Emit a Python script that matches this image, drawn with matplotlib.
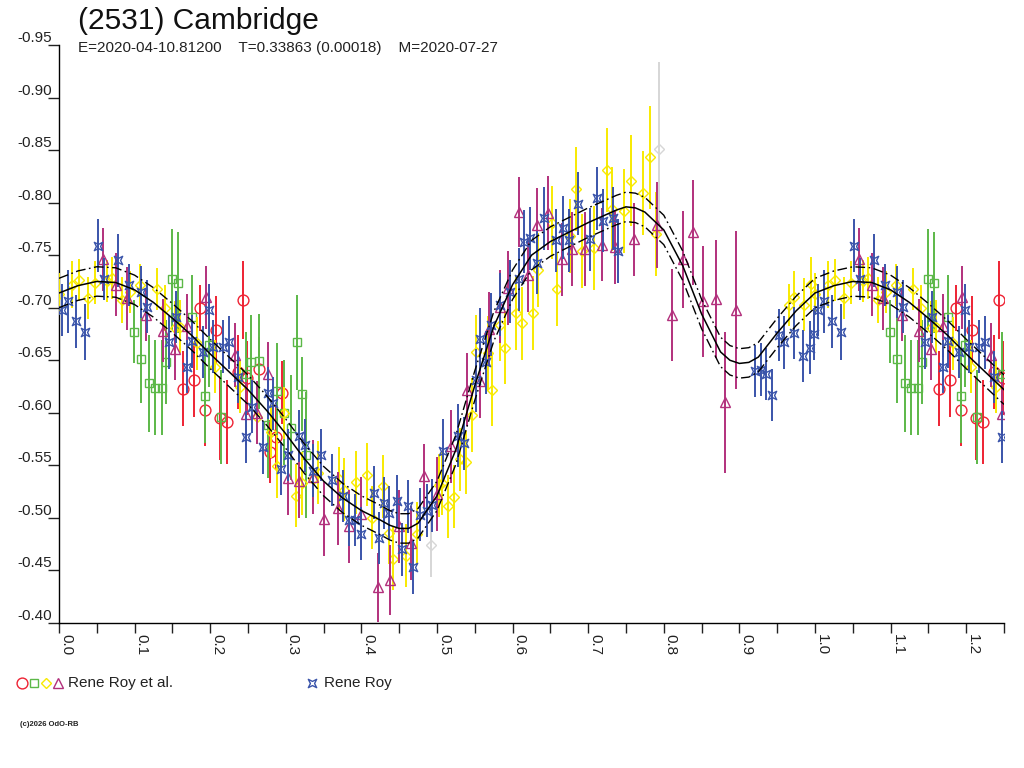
import numpy as np
import matplotlib
matplotlib.use("Agg")
import matplotlib.pyplot as plt
from matplotlib.path import Path
from matplotlib.lines import Line2D

plt.rcParams['font.family'] = ['Liberation Sans', 'DejaVu Sans']

# ---------------- data ----------------
TITLE = "(2531) Cambridge"
SUBTITLE = "E=2020-04-10.81200    T=0.33863 (0.00018)    M=2020-07-27"
X_TICKS = [0.0, 0.1, 0.2, 0.3, 0.4, 0.5, 0.6, 0.7, 0.8, 0.9, 1.0, 1.1, 1.2]
Y_TICKS = [-0.95, -0.90, -0.85, -0.80, -0.75, -0.70, -0.65, -0.60, -0.55, -0.50, -0.45, -0.40]

red_phase = [0.164, 0.178, 0.186, 0.193, 0.208, 0.213, 0.222, 0.237, 0.243, 0.249, 0.264, 0.279, 0.287, 0.295]
red_mag = [-0.623, -0.631, -0.700, -0.603, -0.679, -0.595, -0.591, -0.639, -0.707, -0.633, -0.642, -0.563, -0.577, -0.619]
red_err = [0.036, 0.035, 0.022, 0.035, 0.032, 0.040, 0.040, 0.035, 0.037, 0.035, 0.030, 0.030, 0.030, 0.030]

green_phase = [0.099, 0.108, 0.119, 0.127, 0.136, 0.142, 0.149, 0.158, 0.176, 0.193, 0.198, 0.214,
               0.247, 0.254, 0.265, 0.277, 0.289, 0.298, 0.307, 0.315, 0.322, 0.327]
green_mag = [-0.677, -0.651, -0.628, -0.624, -0.624, -0.648, -0.727, -0.724, -0.691, -0.616, -0.665, -0.596,
             -0.637, -0.648, -0.649, -0.588, -0.621, -0.600, -0.586, -0.667, -0.618, -0.560]
green_err = [0.030, 0.042, 0.046, 0.045, 0.045, 0.040, 0.048, 0.048, 0.040, 0.045, 0.040, 0.045,
             0.040, 0.045, 0.045, 0.050, 0.045, 0.050, 0.050, 0.045, 0.035, 0.060]

yellow_phase = [0.000, 0.017, 0.027, 0.039, 0.048, 0.063, 0.070, 0.083, 0.094, 0.107, 0.129, 0.140,
                0.153, 0.160, 0.182, 0.206, 0.239, 0.262, 0.281, 0.289, 0.297, 0.314, 0.321, 0.336,
                0.343, 0.370, 0.377, 0.393, 0.407, 0.414, 0.429, 0.436, 0.442, 0.459, 0.473, 0.503,
                0.506, 0.515, 0.523, 0.531, 0.538, 0.546, 0.552, 0.567, 0.573, 0.583, 0.590, 0.605,
                0.612, 0.627, 0.634, 0.652, 0.659, 0.676, 0.684, 0.692, 0.708, 0.725, 0.731, 0.748,
                0.756, 0.772, 0.782, 0.790, 0.965, 0.972, 0.985, 0.995]
yellow_mag = [-0.713, -0.722, -0.726, -0.709, -0.724, -0.725, -0.728, -0.707, -0.715, -0.722, -0.718, -0.700,
              -0.681, -0.682, -0.666, -0.644, -0.625, -0.596, -0.582, -0.549, -0.600, -0.521, -0.533, -0.537,
              -0.543, -0.537, -0.527, -0.534, -0.541, -0.500, -0.530, -0.486, -0.461, -0.464, -0.485, -0.531,
              -0.533, -0.511, -0.520, -0.556, -0.553, -0.598, -0.658, -0.657, -0.622, -0.684, -0.662, -0.695,
              -0.685, -0.695, -0.736, -0.781, -0.718, -0.768, -0.813, -0.754, -0.757, -0.831, -0.794, -0.792,
              -0.821, -0.809, -0.843, -0.770, -0.703, -0.710, -0.703, -0.723]
yellow_err = [0.020, 0.022, 0.020, 0.020, 0.020, 0.020, 0.020, 0.022, 0.020, 0.020, 0.020, 0.022,
              0.025, 0.025, 0.025, 0.025, 0.025, 0.025, 0.025, 0.030, 0.025, 0.030, 0.030, 0.030,
              0.030, 0.030, 0.030, 0.030, 0.030, 0.030, 0.030, 0.030, 0.030, 0.030, 0.030, 0.030,
              0.030, 0.030, 0.030, 0.030, 0.030, 0.035, 0.035, 0.035, 0.035, 0.035, 0.035, 0.035,
              0.035, 0.035, 0.035, 0.035, 0.035, 0.035, 0.040, 0.035, 0.040, 0.040, 0.040, 0.040,
              0.043, 0.040, 0.049, 0.040, 0.020, 0.025, 0.025, 0.025]

gray_phase = [0.492, 0.794]
gray_mag = [-0.474, -0.851]
gray_err = [0.030, 0.083]

magenta_phase = [0.058, 0.075, 0.090, 0.115, 0.138, 0.153, 0.169, 0.194, 0.233, 0.247, 0.262, 0.277,
                 0.303, 0.317, 0.336, 0.350, 0.369, 0.384, 0.399, 0.422, 0.438, 0.450, 0.465, 0.483,
                 0.500, 0.518, 0.540, 0.557, 0.569, 0.583, 0.594, 0.608, 0.620, 0.632, 0.647, 0.665,
                 0.678, 0.696, 0.718, 0.736, 0.760, 0.791, 0.811, 0.826, 0.839, 0.852, 0.869, 0.881, 0.895]
magenta_mag = [-0.746, -0.722, -0.709, -0.693, -0.678, -0.661, -0.683, -0.710, -0.655, -0.599, -0.600, -0.637,
               -0.538, -0.535, -0.539, -0.499, -0.509, -0.492, -0.504, -0.434, -0.441, -0.492, -0.476, -0.540,
               -0.523, -0.568, -0.622, -0.630, -0.680, -0.701, -0.719, -0.791, -0.731, -0.779, -0.790, -0.746,
               -0.756, -0.756, -0.760, -0.758, -0.765, -0.779, -0.693, -0.746, -0.772, -0.706, -0.708, -0.610, -0.698]
magenta_err = [0.030, 0.030, 0.030, 0.025, 0.030, 0.030, 0.030, 0.030, 0.030, 0.030, 0.030, 0.030,
               0.035, 0.035, 0.035, 0.035, 0.035, 0.035, 0.035, 0.033, 0.033, 0.035, 0.035, 0.030,
               0.035, 0.035, 0.035, 0.035, 0.035, 0.035, 0.035, 0.033, 0.035, 0.035, 0.035, 0.035,
               0.035, 0.035, 0.035, 0.035, 0.035, 0.041, 0.044, 0.046, 0.050, 0.053, 0.056, 0.067, 0.075]

blue_phase = [0.004, 0.012, 0.022, 0.034, 0.052, 0.060, 0.0785, 0.093, 0.108, 0.116, 0.146, 0.155,
              0.169, 0.176, 0.191, 0.198, 0.204, 0.217, 0.225, 0.237, 0.248, 0.255, 0.270, 0.276,
              0.283, 0.294, 0.303, 0.318, 0.326, 0.336, 0.346, 0.361, 0.375, 0.383, 0.391, 0.399,
              0.417, 0.423, 0.430, 0.437, 0.447, 0.454, 0.461, 0.468, 0.478, 0.487, 0.494, 0.508,
              0.528, 0.536, 0.552, 0.557, 0.565, 0.571, 0.583, 0.597, 0.608, 0.615, 0.623, 0.632,
              0.641, 0.658, 0.667, 0.675, 0.687, 0.703, 0.711, 0.719, 0.733, 0.739, 0.921, 0.928,
              0.935, 0.943, 0.952, 0.959, 0.972, 0.984, 0.993, 0.999]
blue_mag = [-0.698, -0.706, -0.687, -0.677, -0.759, -0.727, -0.745, -0.722, -0.715, -0.701, -0.667, -0.691,
            -0.644, -0.668, -0.658, -0.698, -0.663, -0.663, -0.667, -0.634, -0.577, -0.606, -0.567, -0.619,
            -0.609, -0.547, -0.560, -0.578, -0.569, -0.545, -0.560, -0.536, -0.521, -0.498, -0.498, -0.485,
            -0.524, -0.481, -0.514, -0.505, -0.516, -0.470, -0.511, -0.453, -0.503, -0.507, -0.512, -0.564,
            -0.578, -0.571, -0.631, -0.670, -0.648, -0.684, -0.703, -0.715, -0.727, -0.763, -0.766, -0.743,
            -0.785, -0.764, -0.776, -0.764, -0.799, -0.765, -0.804, -0.783, -0.785, -0.754, -0.640, -0.641,
            -0.637, -0.617, -0.674, -0.667, -0.676, -0.654, -0.662, -0.675]
blue_err = [0.025, 0.030, 0.025, 0.027, 0.025, 0.020, 0.025, 0.020, 0.025, 0.025, 0.025, 0.025,
            0.025, 0.025, 0.025, 0.025, 0.025, 0.025, 0.025, 0.025, 0.025, 0.025, 0.025, 0.025,
            0.025, 0.025, 0.025, 0.025, 0.025, 0.025, 0.025, 0.025, 0.025, 0.025, 0.025, 0.025,
            0.025, 0.025, 0.025, 0.025, 0.025, 0.025, 0.025, 0.025, 0.025, 0.025, 0.025, 0.030,
            0.030, 0.025, 0.030, 0.030, 0.030, 0.030, 0.030, 0.030, 0.030, 0.030, 0.030, 0.030,
            0.030, 0.030, 0.030, 0.030, 0.030, 0.030, 0.030, 0.030, 0.030, 0.030, 0.025, 0.025,
            0.025, 0.025, 0.025, 0.025, 0.025, 0.025, 0.025, 0.025]

# fitted light curve and its uncertainty band
curve_phase = [0.000, 0.025, 0.050, 0.075, 0.100, 0.125, 0.150, 0.175, 0.200, 0.225, 0.250, 0.275,
               0.300, 0.325, 0.350, 0.375, 0.400, 0.425, 0.4375, 0.450, 0.4625, 0.475, 0.500, 0.525,
               0.550, 0.575, 0.600, 0.625, 0.650, 0.675, 0.700, 0.725, 0.7375, 0.750, 0.7625, 0.775,
               0.800, 0.825, 0.850, 0.875, 0.8875, 0.900, 0.9125, 0.925, 0.950, 0.975, 1.000]
curve_mag = [-0.714, -0.721, -0.725, -0.724, -0.717, -0.705, -0.690, -0.674, -0.656, -0.639, -0.622, -0.602,
             -0.580, -0.556, -0.535, -0.519, -0.507, -0.498, -0.493, -0.490, -0.490, -0.495, -0.521, -0.565,
             -0.626, -0.682, -0.722, -0.750, -0.763, -0.772, -0.781, -0.789, -0.793, -0.796, -0.795, -0.791,
             -0.774, -0.740, -0.694, -0.658, -0.650, -0.647, -0.648, -0.653, -0.676, -0.697, -0.714]
CURVE_BAND = 0.014

PHASE_MAX = 1.25

# ---------------- helpers ----------------
def wrap(p, m, e=None):
    p = np.asarray(p, float); m = np.asarray(m, float)
    sel = p + 1.0 <= PHASE_MAX
    pp = np.concatenate([p, p[sel] + 1.0])
    mm = np.concatenate([m, m[sel]])
    if e is None:
        return pp, mm
    e = np.asarray(e, float)
    return pp, mm, np.concatenate([e, e[sel]])

star_verts = [(1, 1), (0, 0.5), (-1, 1), (-0.5, 0), (-1, -1), (0, -0.5), (1, -1), (0.5, 0), (1, 1)]
star_codes = [Path.MOVETO] + [Path.LINETO] * 7 + [Path.CLOSEPOLY]
STAR = Path(star_verts, star_codes)

RED = '#EE2233'
GREEN = '#5CB848'
YELLOW = '#F8EA00'
MAGENTA = '#B2307C'
BLUE = '#3A54AA'
GRAY = '#D6D6D6'

# ---------------- figure ----------------
fig = plt.figure(figsize=(10.24, 7.68), dpi=100)
L, R, T, B = 59, 1004, 45, 623
ax = fig.add_axes([L / 1024, 1 - B / 768, (R - L) / 1024, (B - T) / 768])

series = [
    (gray_phase, gray_mag, gray_err, GRAY, 'D', 5.2),
    (red_phase, red_mag, red_err, RED, 'o', 7.8),
    (green_phase, green_mag, green_err, GREEN, 's', 5.8),
    (yellow_phase, yellow_mag, yellow_err, YELLOW, 'D', 5.4),
    (magenta_phase, magenta_mag, magenta_err, MAGENTA, '^', 7.0),
    (blue_phase, blue_mag, blue_err, BLUE, STAR, 6.0),
]
for z, (p, m, e, c, mk, ms) in enumerate(series):
    pp, mm, ee = wrap(p, m, e)
    ax.errorbar(pp, mm, yerr=ee, fmt='none', ecolor=c, elinewidth=1.4, capsize=0, zorder=2 + z)
    ax.plot(pp, mm, linestyle='none', marker=mk, ms=ms, mfc='none', mec=c, mew=1.0, zorder=2 + z)

cp, cm = wrap(curve_phase[:-1], curve_mag[:-1])
order = np.argsort(cp)
cp, cm = cp[order], cm[order]
ax.plot(cp, cm, color='black', lw=1.1, zorder=20)
ax.plot(cp, cm - CURVE_BAND, color='black', lw=1.0, dashes=(7, 2.5, 1.2, 2.5), zorder=20)
ax.plot(cp, cm + CURVE_BAND, color='black', lw=1.0, dashes=(7, 2.5, 1.2, 2.5), zorder=20)

ax.set_xlim(0, PHASE_MAX)
ax.set_ylim(-0.40, -0.95)
for s in ('top', 'right'):
    ax.spines[s].set_visible(False)
for s in ('left', 'bottom'):
    ax.spines[s].set_linewidth(1.0)

ax.set_xticks(X_TICKS)
ax.set_xticklabels([f"{v:.1f}" for v in X_TICKS])
ax.set_xticks(np.round(np.arange(0.05, PHASE_MAX + 0.001, 0.1), 2), minor=True)
ax.tick_params(axis='x', which='both', direction='out', length=7.5, width=1.0, pad=0.5,
               labelsize=11, colors='#222222')
for lab in ax.get_xticklabels():
    lab.set_rotation(-90)
    lab.set_ha('left')
    lab.set_va('top')

ax.set_yticks(Y_TICKS)
ax.set_yticklabels([f"{v:.2f}" for v in Y_TICKS])
ax.tick_params(axis='y', direction='out', length=8, width=1.0, pad=-3, labelsize=11, colors='#222222')
for lab in ax.get_yticklabels():
    lab.set_va('bottom')

# titles
fig.text(78 / 1024, 1 - 21 / 768, TITLE, fontsize=21.5, ha='left', va='center', color='#111111')
fig.text(78 / 1024, 1 - 48 / 768, SUBTITLE, fontsize=11, ha='left', va='center', color='#222222')

# legend
ly = 1 - 683 / 768
for x, c, mk, ms in [(22, RED, 'o', 7.8), (34, GREEN, 's', 5.8), (46, YELLOW, 'D', 5.4), (58, MAGENTA, '^', 7.0)]:
    fig.add_artist(Line2D([x / 1024], [ly], transform=fig.transFigure, marker=mk, ms=ms,
                          mfc='none', mec=c, mew=1.0, linestyle='none'))
fig.text(68 / 1024, ly, "Rene Roy et al.", fontsize=11, ha='left', va='center', color='#222222')
fig.add_artist(Line2D([312 / 1024], [ly], transform=fig.transFigure, marker=STAR, ms=6.0,
                      mfc='none', mec=BLUE, mew=1.0, linestyle='none'))
fig.text(324 / 1024, ly, "Rene Roy", fontsize=11, ha='left', va='center', color='#222222')

fig.text(20 / 1024, 1 - 725 / 768, "(c)2026 OdO-RB", fontsize=5.5, fontweight='bold',
         ha='left', va='center', color='#222222')

fig.savefig("out.png", dpi=100)
